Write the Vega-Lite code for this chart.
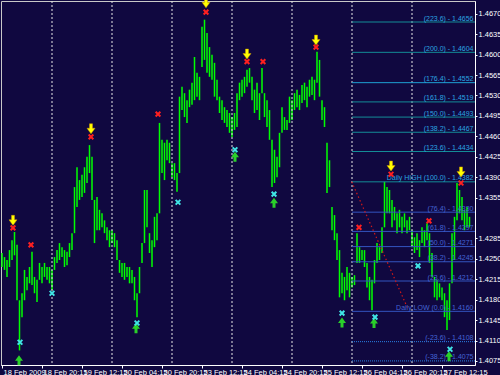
{
"$schema": "https://vega.github.io/schema/vega-lite/v6.json",
"width": 474, "height": 364,
"autosize": {"type": "none"},
"padding": {"left": 1, "top": 1, "right": 25, "bottom": 10},
"background": "#100840",
"config": {"view": {"stroke": "#c8c8c8", "strokeWidth": 1}, "font": "Liberation Sans", "text": {"font": "Liberation Sans"}, "axis": {"labelOverlap": false, "labelBound": false, "labelFlush": false, "labelSeparation": 0}},
"datasets": {
"seps": [{"h":20},{"h":44},{"h":68},{"h":92},{"h":116},{"h":140},{"h":164}],
"fib": [
{"lvl":"(223.6) - 1.4656","p":1.4656,"g":"up"},
{"lvl":"(200.0) - 1.4604","p":1.4604,"g":"up"},
{"lvl":"(176.4) - 1.4552","p":1.4552,"g":"up2"},
{"lvl":"(161.8) - 1.4519","p":1.4519,"g":"up"},
{"lvl":"(150.0) - 1.4493","p":1.4493,"g":"up"},
{"lvl":"(138.2) - 1.4467","p":1.4467,"g":"up"},
{"lvl":"(123.6) - 1.4434","p":1.4434,"g":"up"},
{"lvl":"Daily HIGH (100.0) - 1.4382","p":1.4382,"g":"up"},
{"lvl":"(76.4) - 1.4330","p":1.4330,"g":"mid"},
{"lvl":"(61.8) - 1.4297","p":1.4297,"g":"mid"},
{"lvl":"(50.0) - 1.4271","p":1.4271,"g":"mid"},
{"lvl":"(38.2) - 1.4245","p":1.4245,"g":"mid"},
{"lvl":"(23.6) - 1.4212","p":1.4212,"g":"mid"},
{"lvl":"Daily LOW (0.0) - 1.4160","p":1.4160,"g":"mid"},
{"lvl":"(-23.6) - 1.4108","p":1.4108,"g":"low"},
{"lvl":"(-38.2) - 1.4075","p":1.4075,"g":"low"}],
"diag": [{"h":139.9,"p":1.4382},{"h":162.3,"p":1.4165}],
"markers": [
{"h":4.4,"p":1.4316,"t":"dn"},{"h":35.6,"p":1.4473,"t":"dn"},{"h":81.6,"p":1.4689,"t":"dn"},{"h":98,"p":1.4601,"t":"dn"},{"h":125.6,"p":1.4625,"t":"dn"},{"h":155.6,"p":1.4409,"t":"dn"},{"h":183.6,"p":1.4399,"t":"dn"},
{"h":4.4,"p":1.4303,"t":"rx"},{"h":11.6,"p":1.4274,"t":"rx"},{"h":35.6,"p":1.4459,"t":"rx"},{"h":62.4,"p":1.4498,"t":"rx"},{"h":81.6,"p":1.4673,"t":"rx"},{"h":98,"p":1.4588,"t":"rx"},{"h":104.4,"p":1.4588,"t":"rx"},{"h":125.6,"p":1.4613,"t":"rx"},{"h":142.8,"p":1.4304,"t":"rx"},{"h":155.6,"p":1.4395,"t":"rx"},{"h":170.8,"p":1.4315,"t":"rx"},{"h":183.6,"p":1.4380,"t":"rx"},
{"h":7.2,"p":1.4107,"t":"cx"},{"h":20,"p":1.4191,"t":"cx"},{"h":54,"p":1.4140,"t":"cx"},{"h":70.4,"p":1.4347,"t":"cx"},{"h":93.2,"p":1.4437,"t":"cx"},{"h":108.8,"p":1.4361,"t":"cx"},{"h":136,"p":1.4157,"t":"cx"},{"h":149.2,"p":1.4150,"t":"cx"},{"h":166.4,"p":1.4238,"t":"cx"},{"h":179.2,"p":1.4095,"t":"cx"},
{"h":6.8,"p":1.4076,"t":"up"},{"h":53.6,"p":1.4131,"t":"up"},{"h":93.2,"p":1.4425,"t":"up"},{"h":108.8,"p":1.4346,"t":"up"},{"h":136,"p":1.4141,"t":"up"},{"h":148.8,"p":1.4140,"t":"up"},{"h":178.8,"p":1.4083,"t":"up"}],
"bars": [
{"h":0,"hi":1.4260,"lo":1.4236},{"h":1,"hi":1.4253,"lo":1.4231},{"h":2,"hi":1.4248,"lo":1.4219},{"h":3,"hi":1.4265,"lo":1.4236},{"h":4,"hi":1.4282,"lo":1.4248},{"h":5,"hi":1.4296,"lo":1.4256},{"h":6,"hi":1.4274,"lo":1.4179},{"h":7,"hi":1.4179,"lo":1.4093},{"h":8,"hi":1.4191,"lo":1.4150},{"h":9,"hi":1.4231,"lo":1.4179},
{"h":10,"hi":1.4219,"lo":1.4196},{"h":11,"hi":1.4236,"lo":1.4208},{"h":12,"hi":1.4262,"lo":1.4205},{"h":13,"hi":1.4219,"lo":1.4191},{"h":14,"hi":1.4214,"lo":1.4176},{"h":15,"hi":1.4243,"lo":1.4214},{"h":16,"hi":1.4236,"lo":1.4208},{"h":17,"hi":1.4243,"lo":1.4219},{"h":18,"hi":1.4236,"lo":1.4214},{"h":19,"hi":1.4236,"lo":1.4208},
{"h":20,"hi":1.4231,"lo":1.4196},{"h":21,"hi":1.4253,"lo":1.4231},{"h":22,"hi":1.4265,"lo":1.4243},{"h":23,"hi":1.4277,"lo":1.4248},{"h":24,"hi":1.4270,"lo":1.4253},{"h":25,"hi":1.4265,"lo":1.4236},{"h":26,"hi":1.4262,"lo":1.4239},{"h":27,"hi":1.4277,"lo":1.4253},{"h":28,"hi":1.4294,"lo":1.4265},{"h":29,"hi":1.4373,"lo":1.4294},
{"h":30,"hi":1.4407,"lo":1.4339},{"h":31,"hi":1.4385,"lo":1.4351},{"h":32,"hi":1.4394,"lo":1.4356},{"h":33,"hi":1.4407,"lo":1.4363},{"h":34,"hi":1.4425,"lo":1.4380},{"h":35,"hi":1.4445,"lo":1.4397},{"h":36,"hi":1.4425,"lo":1.4351},{"h":37,"hi":1.4351,"lo":1.4277},{"h":38,"hi":1.4356,"lo":1.4299},{"h":39,"hi":1.4334,"lo":1.4299},
{"h":40,"hi":1.4328,"lo":1.4304},{"h":41,"hi":1.4316,"lo":1.4294},{"h":42,"hi":1.4304,"lo":1.4282},{"h":43,"hi":1.4299,"lo":1.4270},{"h":44,"hi":1.4299,"lo":1.4277},{"h":45,"hi":1.4294,"lo":1.4270},{"h":46,"hi":1.4282,"lo":1.4248},{"h":47,"hi":1.4248,"lo":1.4226},{"h":48,"hi":1.4243,"lo":1.4219},{"h":49,"hi":1.4243,"lo":1.4214},
{"h":50,"hi":1.4236,"lo":1.4219},{"h":51,"hi":1.4236,"lo":1.4208},{"h":52,"hi":1.4231,"lo":1.4208},{"h":53,"hi":1.4219,"lo":1.4179},{"h":54,"hi":1.4191,"lo":1.4150},{"h":55,"hi":1.4236,"lo":1.4191},{"h":56,"hi":1.4277,"lo":1.4243},{"h":57,"hi":1.4368,"lo":1.4277},{"h":58,"hi":1.4368,"lo":1.4304},{"h":59,"hi":1.4294,"lo":1.4260},
{"h":60,"hi":1.4282,"lo":1.4236},{"h":61,"hi":1.4322,"lo":1.4270},{"h":62,"hi":1.4328,"lo":1.4282},{"h":63,"hi":1.4483,"lo":1.4328},{"h":64,"hi":1.4454,"lo":1.4397},{"h":65,"hi":1.4449,"lo":1.4385},{"h":66,"hi":1.4454,"lo":1.4419},{"h":67,"hi":1.4449,"lo":1.4414},{"h":68,"hi":1.4414,"lo":1.4390},{"h":69,"hi":1.4414,"lo":1.4385},
{"h":70,"hi":1.4397,"lo":1.4365},{"h":71,"hi":1.4528,"lo":1.4397},{"h":72,"hi":1.4545,"lo":1.4505},{"h":73,"hi":1.4534,"lo":1.4493},{"h":74,"hi":1.4522,"lo":1.4483},{"h":75,"hi":1.4540,"lo":1.4510},{"h":76,"hi":1.4552,"lo":1.4514},{"h":77,"hi":1.4596,"lo":1.4522},{"h":78,"hi":1.4569,"lo":1.4528},{"h":79,"hi":1.4562,"lo":1.4522},
{"h":80,"hi":1.4648,"lo":1.4579},{"h":81,"hi":1.4660,"lo":1.4591},{"h":82,"hi":1.4637,"lo":1.4569},{"h":83,"hi":1.4613,"lo":1.4562},{"h":84,"hi":1.4600,"lo":1.4557},{"h":85,"hi":1.4586,"lo":1.4528},{"h":86,"hi":1.4557,"lo":1.4522},{"h":87,"hi":1.4528,"lo":1.4500},{"h":88,"hi":1.4522,"lo":1.4488},{"h":89,"hi":1.4510,"lo":1.4483},
{"h":90,"hi":1.4505,"lo":1.4476},{"h":91,"hi":1.4500,"lo":1.4466},{"h":92,"hi":1.4493,"lo":1.4459},{"h":93,"hi":1.4500,"lo":1.4471},{"h":94,"hi":1.4534,"lo":1.4476},{"h":95,"hi":1.4552,"lo":1.4522},{"h":96,"hi":1.4557,"lo":1.4528},{"h":97,"hi":1.4562,"lo":1.4534},{"h":98,"hi":1.4574,"lo":1.4545},{"h":99,"hi":1.4577,"lo":1.4552},
{"h":100,"hi":1.4562,"lo":1.4522},{"h":101,"hi":1.4540,"lo":1.4500},{"h":102,"hi":1.4552,"lo":1.4505},{"h":103,"hi":1.4534,"lo":1.4488},{"h":104,"hi":1.4577,"lo":1.4534},{"h":105,"hi":1.4534,"lo":1.4493},{"h":106,"hi":1.4522,"lo":1.4476},{"h":107,"hi":1.4505,"lo":1.4454},{"h":108,"hi":1.4454,"lo":1.4373},{"h":109,"hi":1.4437,"lo":1.4380},
{"h":110,"hi":1.4425,"lo":1.4390},{"h":111,"hi":1.4466,"lo":1.4407},{"h":112,"hi":1.4510,"lo":1.4466},{"h":113,"hi":1.4493,"lo":1.4471},{"h":114,"hi":1.4488,"lo":1.4471},{"h":115,"hi":1.4528,"lo":1.4483},{"h":116,"hi":1.4522,"lo":1.4488},{"h":117,"hi":1.4534,"lo":1.4505},{"h":118,"hi":1.4540,"lo":1.4510},{"h":119,"hi":1.4531,"lo":1.4505},
{"h":120,"hi":1.4548,"lo":1.4517},{"h":121,"hi":1.4552,"lo":1.4522},{"h":122,"hi":1.4545,"lo":1.4510},{"h":123,"hi":1.4557,"lo":1.4528},{"h":124,"hi":1.4562,"lo":1.4531},{"h":125,"hi":1.4557,"lo":1.4522},{"h":126,"hi":1.4605,"lo":1.4552},{"h":127,"hi":1.4591,"lo":1.4528},{"h":128,"hi":1.4522,"lo":1.4488},{"h":129,"hi":1.4510,"lo":1.4476},
{"h":130,"hi":1.4449,"lo":1.4363},{"h":131,"hi":1.4419,"lo":1.4373},{"h":132,"hi":1.4339,"lo":1.4299},{"h":133,"hi":1.4325,"lo":1.4282},{"h":134,"hi":1.4294,"lo":1.4248},{"h":135,"hi":1.4265,"lo":1.4184},{"h":136,"hi":1.4226,"lo":1.4191},{"h":137,"hi":1.4219,"lo":1.4179},{"h":138,"hi":1.4236,"lo":1.4196},{"h":139,"hi":1.4226,"lo":1.4184},
{"h":140,"hi":1.4219,"lo":1.4201},{"h":141,"hi":1.4222,"lo":1.4205},{"h":142,"hi":1.4294,"lo":1.4243},{"h":143,"hi":1.4270,"lo":1.4243},{"h":144,"hi":1.4265,"lo":1.4248},{"h":145,"hi":1.4265,"lo":1.4236},{"h":146,"hi":1.4243,"lo":1.4201},{"h":147,"hi":1.4219,"lo":1.4179},{"h":148,"hi":1.4214,"lo":1.4162},{"h":149,"hi":1.4248,"lo":1.4208},
{"h":150,"hi":1.4277,"lo":1.4243},{"h":151,"hi":1.4270,"lo":1.4248},{"h":152,"hi":1.4304,"lo":1.4260},{"h":153,"hi":1.4382,"lo":1.4304},{"h":154,"hi":1.4373,"lo":1.4328},{"h":155,"hi":1.4368,"lo":1.4328},{"h":156,"hi":1.4351,"lo":1.4304},{"h":157,"hi":1.4339,"lo":1.4316},{"h":158,"hi":1.4328,"lo":1.4294},{"h":159,"hi":1.4334,"lo":1.4304},
{"h":160,"hi":1.4322,"lo":1.4294},{"h":161,"hi":1.4328,"lo":1.4304},{"h":162,"hi":1.4316,"lo":1.4294},{"h":163,"hi":1.4322,"lo":1.4299},{"h":164,"hi":1.4299,"lo":1.4270},{"h":165,"hi":1.4287,"lo":1.4260},{"h":166,"hi":1.4294,"lo":1.4265},{"h":167,"hi":1.4282,"lo":1.4253},{"h":168,"hi":1.4304,"lo":1.4277},{"h":169,"hi":1.4299,"lo":1.4270},
{"h":170,"hi":1.4311,"lo":1.4282},{"h":171,"hi":1.4294,"lo":1.4243},{"h":172,"hi":1.4260,"lo":1.4219},{"h":173,"hi":1.4219,"lo":1.4184},{"h":174,"hi":1.4214,"lo":1.4179},{"h":175,"hi":1.4208,"lo":1.4184},{"h":176,"hi":1.4201,"lo":1.4179},{"h":177,"hi":1.4191,"lo":1.4150},{"h":178,"hi":1.4179,"lo":1.4128},{"h":179,"hi":1.4208,"lo":1.4145},
{"h":180,"hi":1.4294,"lo":1.4208},{"h":181,"hi":1.4322,"lo":1.4248},{"h":182,"hi":1.4380,"lo":1.4316},{"h":183,"hi":1.4368,"lo":1.4328},{"h":184,"hi":1.4356,"lo":1.4316},{"h":185,"hi":1.4334,"lo":1.4299},{"h":186,"hi":1.4339,"lo":1.4304},{"h":187,"hi":1.4322,"lo":1.4304}]
},
"layer": [
{"data": {"name": "bars"},
 "mark": {"type": "rule", "color": "#00ff00", "strokeWidth": 1.5},
 "encoding": {
  "x": {"field": "h", "type": "quantitative", "title": null, "scale": {"domain": [-0.4, 189.2], "nice": false, "zero": false},
   "axis": {"values": [0,16,32,48,64,80,96,112,128,144,160,176], "tickCount": 30, "labelExpr": "['18 Feb 2009','18 Feb 20:15','19 Feb 12:15','20 Feb 04:15','20 Feb 20:15','23 Feb 12:15','24 Feb 04:15','24 Feb 20:15','25 Feb 12:15','26 Feb 04:15','26 Feb 20:15','27 Feb 12:15'][round(datum.value/16)]", "labelAlign": "left", "labelOffset": 1, "labelFontSize": 7.5, "labelFont": "Liberation Sans", "labelColor": "#ffffff", "tickColor": "#ffffff", "tickSize": 3, "domainColor": "#ffffff", "labelPadding": 0, "labelOverlap": false, "labelBound": false, "labelFlush": false, "grid": false}},
  "y": {"field": "hi", "type": "quantitative", "title": null, "scale": {"domain": [1.4068, 1.4692], "nice": false, "zero": false},
   "axis": {"orient": "right", "values": [1.4075,1.4110,1.4145,1.4180,1.4215,1.4250,1.4285,1.4355,1.4390,1.4425,1.4460,1.4495,1.4530,1.4565,1.4600,1.4635,1.4670], "tickCount": 30, "format": ".4f", "labelFontSize": 7.5, "labelFont": "Liberation Sans", "labelColor": "#ffffff", "tickColor": "#ffffff", "tickSize": 2, "labelPadding": 1, "domainColor": "#ffffff", "grid": false, "labelOverlap": false, "labelBound": false, "labelFlush": false, "labelSeparation": 0}},
  "y2": {"field": "lo"}
 }},
{"data": {"name": "seps"},
 "mark": {"type": "rule", "color": "#e8e8e8", "strokeWidth": 1, "strokeDash": [2, 2]},
 "encoding": {"x": {"field": "h", "type": "quantitative", "title": null}}},
{"mark": {"type": "rule", "color": "#7c8c70", "strokeWidth": 1},
 "encoding": {"y": {"datum": 1.4312, "type": "quantitative"}}},
{"data": {"name": "fib"},
 "transform": [{"filter": "datum.g != 'low'"}],
 "mark": {"type": "rule", "strokeWidth": 1},
 "encoding": {
  "x": {"datum": 140, "type": "quantitative"}, "x2": {"datum": 189.2},
  "y": {"field": "p", "type": "quantitative", "title": null},
  "color": {"field": "g", "type": "nominal", "legend": null, "scale": {"domain": ["up", "up2", "mid", "low"], "range": ["#138c96", "#1ea0d2", "#3354bf", "#2a82e6"]}}}},
{"data": {"name": "fib"},
 "transform": [{"filter": "datum.g == 'low'"}],
 "mark": {"type": "rule", "strokeWidth": 1, "strokeDash": [1, 1], "color": "#2a82e6"},
 "encoding": {
  "x": {"datum": 140, "type": "quantitative"}, "x2": {"datum": 189.2},
  "y": {"field": "p", "type": "quantitative", "title": null}}},
{"mark": {"type": "rule", "color": "#e02020", "strokeWidth": 1, "strokeDash": [3, 3]},
 "encoding": {"x": {"datum": 140, "type": "quantitative"}, "y": {"datum": 1.4604, "type": "quantitative"}, "y2": {"datum": 1.4068}}},
{"data": {"name": "diag"},
 "mark": {"type": "line", "color": "#d01818", "strokeWidth": 1.2, "strokeDash": [1.5, 2.5]},
 "encoding": {"x": {"field": "h", "type": "quantitative", "title": null}, "y": {"field": "p", "type": "quantitative", "title": null}}},
{"data": {"name": "fib"},
 "mark": {"type": "text", "align": "right", "baseline": "bottom", "dy": -0.5, "fontSize": 7, "font": "Liberation Sans"},
 "encoding": {
  "x": {"datum": 188.6, "type": "quantitative"},
  "y": {"field": "p", "type": "quantitative", "title": null},
  "text": {"field": "lvl"},
  "color": {"condition": {"test": "datum.g == 'up' || datum.g == 'up2'", "value": "#2ba6e0"}, "value": "#4464d4"}}},
{"data": {"name": "markers"},
 "transform": [{"filter": "datum.t == 'dn'"}],
 "mark": {"type": "point", "filled": true, "shape": "M-0.3,-1L0.3,-1L0.3,-0.1L0.8,-0.1L0,1L-0.8,-0.1L-0.3,-0.1Z", "size": 100, "color": "#ffff00", "stroke": "#d09a00", "strokeWidth": 0.5, "opacity": 1},
 "encoding": {"x": {"field": "h", "type": "quantitative", "title": null}, "y": {"field": "p", "type": "quantitative", "title": null}}},
{"data": {"name": "markers"},
 "transform": [{"filter": "datum.t == 'up'"}],
 "mark": {"type": "point", "filled": true, "shape": "M-0.3,1L0.3,1L0.3,0.1L0.8,0.1L0,-1L-0.8,0.1L-0.3,0.1Z", "size": 100, "color": "#2ad02a", "opacity": 1},
 "encoding": {"x": {"field": "h", "type": "quantitative", "title": null}, "y": {"field": "p", "type": "quantitative", "title": null}}},
{"data": {"name": "markers"},
 "transform": [{"filter": "datum.t == 'rx'"}],
 "mark": {"type": "point", "filled": false, "shape": "M-1,-1L1,1M1,-1L-1,1", "size": 22, "color": "#ff2020", "strokeWidth": 2, "opacity": 1},
 "encoding": {"x": {"field": "h", "type": "quantitative", "title": null}, "y": {"field": "p", "type": "quantitative", "title": null}}},
{"data": {"name": "markers"},
 "transform": [{"filter": "datum.t == 'cx'"}],
 "mark": {"type": "point", "filled": false, "shape": "M-1,-1L1,1M1,-1L-1,1", "size": 22, "color": "#40e6e6", "strokeWidth": 2, "opacity": 1},
 "encoding": {"x": {"field": "h", "type": "quantitative", "title": null}, "y": {"field": "p", "type": "quantitative", "title": null}}},
{"mark": {"type": "text", "text": "GBPUSD,M15  1.4311 1.4318 1.4304 1.4312", "align": "left", "baseline": "middle", "fontSize": 7.5, "color": "#ffffff", "font": "Liberation Sans"},
 "encoding": {"x": {"datum": 0.2, "type": "quantitative"}, "y": {"datum": 1.4682, "type": "quantitative"}}},
{"mark": {"type": "text", "text": "IFX Trader, © 2001-2008 MetaQuotes Software Corp.", "align": "left", "baseline": "middle", "fontSize": 7.5, "color": "#ffffff", "font": "Liberation Sans"},
 "encoding": {"x": {"datum": 0.2, "type": "quantitative"}, "y": {"datum": 1.4080, "type": "quantitative"}}},
{"mark": {"type": "point", "filled": true, "shape": "M-1,-0.45L1,-0.45L1,0.45L-1,0.45Z", "size": 576, "color": "#ffffff", "opacity": 1, "xOffset": 12},
 "encoding": {"x": {"datum": 189.2, "type": "quantitative"}, "y": {"datum": 1.4312, "type": "quantitative"}}},
{"mark": {"type": "text", "text": "1.4312", "align": "center", "baseline": "middle", "fontSize": 7.5, "color": "#000000", "xOffset": 12, "font": "Liberation Sans"},
 "encoding": {"x": {"datum": 189.2, "type": "quantitative"}, "y": {"datum": 1.4312, "type": "quantitative"}}}
]
}
